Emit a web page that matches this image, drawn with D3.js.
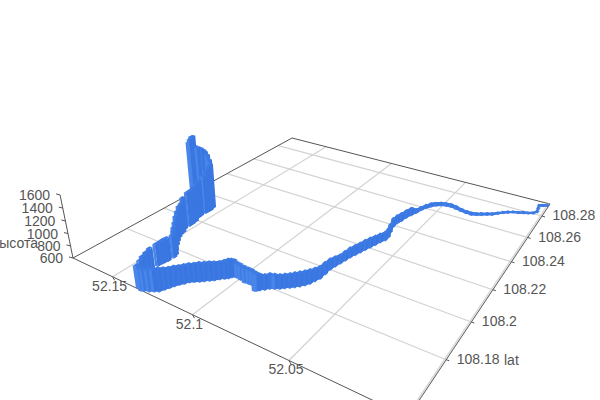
<!DOCTYPE html><html><head><meta charset="utf-8"><script src="https://cdn.jsdelivr.net/npm/d3@7"></script></head><body style="margin:0;background:#fff"><svg id="s" width="600" height="400" style="display:block"></svg><script>
const lonTicks=[52.15,52.1,52.05];
const latTicks=[108.28,108.26,108.24,108.22,108.2,108.18];
const heightTicks=[600,800,1000,1200,1400,1600];
const lonExtent=[52.0,52.1785];
const latExtent=[108.155,108.2923];
const heightExtent=[600,1600];
const trackBreaks=[90,94,98,107,112];
const lon=[8,27,45,40,35,49,72,96,119,144,167,188,209,232,255,282,305,329,358,390,423,455,483,508,531,550,566,579,589,601,612,618,626,627,614,600,599,612,621,631,641,650,659,669,675,682,689,695,695,695,704,712,724,738,754,770,787,803,822,841,855,871,880,888,927,944,965,994,1016,1032,1041,1047,1060,1077,1091,1107,1124,1140,1158,1175,1187,1200,1211,1220,1229,1239,1257,1276,1298,1312,1335,1426,1414,1405,1399,1394,1391,1388,1384,1381,1391,1420,1449,1472,1493,1506,1511,1529,1530,1531,1536,1553,1555,1554,1554,1552,1560,1579,1590,1602,1605,1615,1624,1633,1643,1650,1657,1664,1671].map(v=>52+v/1e4);
const lat=[2898,2889,2879,2851,2822,2801,2789,2782,2771,2764,2752,2737,2721,2698,2687,2672,2661,2652,2653,2658,2665,2670,2667,2659,2645,2626,2602,2575,2542,2513,2483,2447,2423,2390,2346,2308,2282,2259,2233,2207,2182,2157,2132,2108,2081,2055,2029,2003,1970,1938,1916,1895,1878,1863,1850,1839,1827,1816,1806,1797,1784,1772,1764,1761,1782,1781,1779,1784,1787,1786,1778,1767,1758,1746,1732,1721,1709,1698,1687,1676,1661,1647,1632,1615,1599,1583,1574,1565,1558,1553,1559,1628,1634,1646,1660,1687,1703,1717,1730,1756,1772,1794,1821,1844,1868,1888,1904,1927,1954,1972,1994,2024,2040,2066,2082,2095,2117,2128,2127,2126,2121,2116,2112,2107,2103,2099,2096,2092,2089].map(v=>108+v/1e4);
const height=[619,619,619,618,618,618,618,618,618,618,618,618,618,625,625,629,629,636,636,637,644,644,644,648,648,655,655,655,662,727,726,734,733,741,731,738,737,737,745,753,752,751,751,750,741,732,748,763,778,785,792,807,814,817,813,805,805,805,813,821,820,836,866,882,822,830,838,832,829,856,875,893,879,868,879,886,886,890,881,881,885,889,899,908,928,949,943,938,943,948,945,779,843,891,931,949,958,967,968,969,996,983,986,1022,1042,1078,1097,1134,1179,1181,1193,1198,1217,1254,1317,1362,1374,1420,1498,1541,1575,1601,1617,1626,1643,1810,1801,1760,1710];
const [x0,x1,x2,x3]=[292,550,408,73],[y0,y1,y2,y3]=[138,204,417,258];
const dx1=x1-x2,dx2=x3-x2,sx=x0-x1+x2-x3,dy1=y1-y2,dy2=y3-y2,sy=y0-y1+y2-y3,det=dx1*dy2-dx2*dy1;
const g=(sx*dy2-dx2*sy)/det,h=(dx1*sy-sx*dy1)/det;
const a=x1-x0+g*x1,b=x3-x0+h*x3,d=y1-y0+g*y1,e=y3-y0+h*y3;
const iz=-0.0369,Vx=300,Vy=1366;
const sS=d3.scaleLinear().domain([lonExtent[1],lonExtent[0]]).range([0,1]);
const tS=d3.scaleLinear().domain([latExtent[1],latExtent[0]]).range([0,1]);
const zS=d3.scaleLinear().domain(heightExtent).range([0,1]);
function P(lo,la,z){const s=sS(lo),t=tS(la),n=zS(z),W=1+g*s+h*t+n*iz;
 return [(a*s+b*t+x0+n*iz*Vx)/W,(d*s+e*t+y0+n*iz*Vy)/W];}
const svg=d3.select("#s");
const font="'Liberation Sans',Arial,sans-serif",txt="#555";
const ln=(p,q,c,w)=>svg.append("line").attr("x1",p[0]).attr("y1",p[1]).attr("x2",q[0]).attr("y2",q[1]).attr("stroke",c).attr("stroke-width",w);
const [loMin,loMax]=lonExtent,[laMin,laMax]=latExtent,zMin=heightExtent[0],zMax=heightExtent[1];
const grid="#d2d2d2";
lonTicks.forEach(v=>ln(P(v,laMin,zMin),P(v,laMax,zMin),grid,1.2));
latTicks.forEach(v=>ln(P(loMin,v,zMin),P(loMax,v,zMin),grid,1.2));
const axis="#555";
ln(P(loMax,laMin,zMin),P(loMax,laMax,zMin),axis,1);
ln(P(loMax,laMax,zMin),P(loMin,laMax,zMin),axis,1);
const bl=P(loMin,laMax,zMin),fr=P(loMin,laMin,zMin),cr=P(loMax,laMin,zMin);
ln([bl[0]-1.5,bl[1]-0.5],[fr[0]-1.5,fr[1]-0.5],grid,1.2);
ln(cr,fr,axis,1);ln(bl,fr,axis,1);
ln(P(loMax,laMin,zMin),P(loMax,laMin,zMax),axis,1);
const text=(x,y,s,anc)=>svg.append("text").attr("x",x).attr("y",y).attr("dy","0.35em").attr("text-anchor",anc).attr("font-family",font).attr("font-size",14).attr("fill",txt).text(s);
lonTicks.forEach(v=>{const p=P(v,laMin,zMin);ln(p,[p[0]+2,p[1]+3.5],axis,1);text(p[0]-3,p[1]+9,String(v),"middle");});
latTicks.forEach(v=>{const p=P(loMin,v,zMin);ln(p,[p[0]+3,p[1]+1],axis,1);text(p[0]+10.5,p[1]-0.5,String(v),"start");});
heightTicks.forEach(v=>{const p=P(loMax,laMin,v);ln(p,[p[0]-4,p[1]-1],axis,1);text(p[0]-10,p[1]+0.5,String(v),"end");});
text(38,243,"высота","end");
text(504,360,"lat","start");
const hw=0.0009;
const order=d3.range(lon.length).sort((i,j)=>{
 const w=k=>1+g*sS(lon[k])+h*tS(lat[k]);return w(j)-w(i);});
const poly=pts=>pts.map(p=>p.join(",")).join(" ");
const bars=svg.append("g");
order.forEach(i=>{
 const lo=lon[i],la=lat[i],z=height[i];
 [i-1,i].forEach(k=>{
  if(k<0||k+1>=lon.length||trackBreaks.includes(k))return;
  const pa=P(lon[k],lat[k],zMin),pb=P(lon[k+1],lat[k+1],zMin),qa=P(lon[k],lat[k],height[k]),qb=P(lon[k+1],lat[k+1],height[k+1]);
  bars.append("polygon").attr("points",poly([qa,qb,pb,pa])).attr("fill","#3d7ae4").attr("stroke","#3d7ae4").attr("stroke-width",1.2).attr("stroke-linejoin","round");
 });
 const b1=P(lo-hw,la+hw,zMin),b2=P(lo-hw,la-hw,zMin),b3=P(lo+hw,la-hw,zMin);
 const t0=P(lo+hw,la+hw,z),t1=P(lo-hw,la+hw,z),t2=P(lo-hw,la-hw,z),t3=P(lo+hw,la-hw,z);
 bars.append("polygon").attr("points",poly([t1,t2,b2,b1])).attr("fill","#3a76e0");
 bars.append("polygon").attr("points",poly([t2,t3,b3,b2])).attr("fill","#4a86ea");
 bars.append("polygon").attr("points",poly([t0,t1,t2,t3])).attr("fill","#3f7ee6");
});
</script></body></html>
